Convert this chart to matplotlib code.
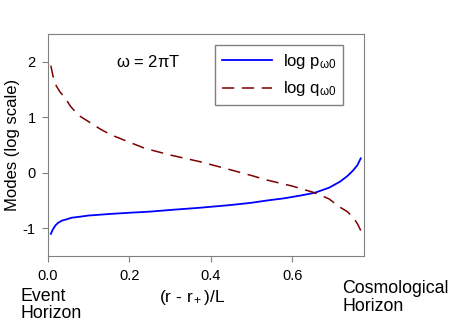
import matplotlib
matplotlib.use("Agg")
import matplotlib.pyplot as plt

plt.rcParams['font.family'] = ['Liberation Sans', 'DejaVu Sans']
plt.rcParams['mathtext.fontset'] = 'custom'
plt.rcParams['mathtext.rm'] = 'Liberation Sans'
plt.rcParams['mathtext.it'] = 'Liberation Sans'
plt.rcParams['axes.unicode_minus'] = False

# values
x_p = [0.007, 0.012, 0.018, 0.025, 0.035, 0.045, 0.058, 0.08, 0.1, 0.156, 0.2,
       0.25, 0.3, 0.373, 0.45, 0.5, 0.537, 0.58, 0.62, 0.655, 0.69, 0.717,
       0.735, 0.749, 0.76, 0.768]
log_p = [-1.1, -1.02, -0.95, -0.9, -0.86, -0.84, -0.81, -0.79, -0.77, -0.74, -0.72,
         -0.70, -0.67, -0.63, -0.58, -0.54, -0.50, -0.46, -0.41, -0.36, -0.27, -0.16,
         -0.06, 0.04, 0.14, 0.26]

x_q = [0.007, 0.012, 0.02, 0.03, 0.042, 0.055, 0.074, 0.1, 0.13, 0.156, 0.2,
       0.238, 0.3, 0.373, 0.45, 0.5, 0.537, 0.6, 0.655, 0.69, 0.717, 0.735,
       0.749, 0.76, 0.768]
log_q = [1.93, 1.75, 1.57, 1.45, 1.35, 1.2, 1.04, 0.92, 0.78, 0.68, 0.55,
         0.44, 0.32, 0.20, 0.05, -0.05, -0.13, -0.24, -0.36, -0.47, -0.62, -0.70,
         -0.80, -0.92, -1.04]

xticks = [0.0, 0.2, 0.4, 0.6]
yticks = [-1, 0, 1, 2]

fig = plt.figure(figsize=(4.55, 3.27), dpi=100)
ax = fig.add_axes([0.1055, 0.217, 0.6945, 0.679])

ax.plot(x_p, log_p, color='#0000ff', lw=1.3, label=r'log p$_{\mathregular{\omega0}}$')
ax.plot(x_q, log_q, color='#800000', lw=1.1, dashes=(8, 5),
        label=r'log q$_{\mathregular{\omega0}}$')

ax.set_xlim(0, 0.776)
ax.set_ylim(-1.5, 2.5)
ax.set_xticks(xticks)
ax.set_xticklabels(['0.0', '0.2', '0.4', '0.6'])
ax.set_yticks(yticks)
for s in ax.spines.values():
    s.set_color('#808080')
ax.tick_params(direction='out', length=4, color='#808080', labelsize=10.5, pad=5)
ax.tick_params(axis='x', pad=5.5)

ax.set_ylabel('Modes (log scale)', fontsize=12, labelpad=2)
ax.text(0.245, 2.0, r'$\mathregular{\omega}$ = 2$\mathregular{\pi}$T',
        fontsize=12, ha='center', va='center')

leg = ax.legend(loc='upper left', bbox_to_anchor=(0.528, 0.95), fontsize=12,
                fancybox=False, framealpha=1, edgecolor='#808080',
                handlelength=3.0, handletextpad=0.66, borderpad=0.42,
                borderaxespad=0, labelspacing=0.5)
leg.get_frame().set_linewidth(1.0)

fig.text(0.046, 0.067, 'Event\nHorizon', fontsize=12.8, ha='left', va='center',
         linespacing=1.05)
fig.text(0.422, 0.089, r'(r - r$_+$)/L', fontsize=12.5, ha='center', va='center')
fig.text(0.752, 0.09, 'Cosmological\nHorizon', fontsize=12.8, ha='left', va='center',
         linespacing=1.05)

fig.savefig('out.png', dpi=100)
